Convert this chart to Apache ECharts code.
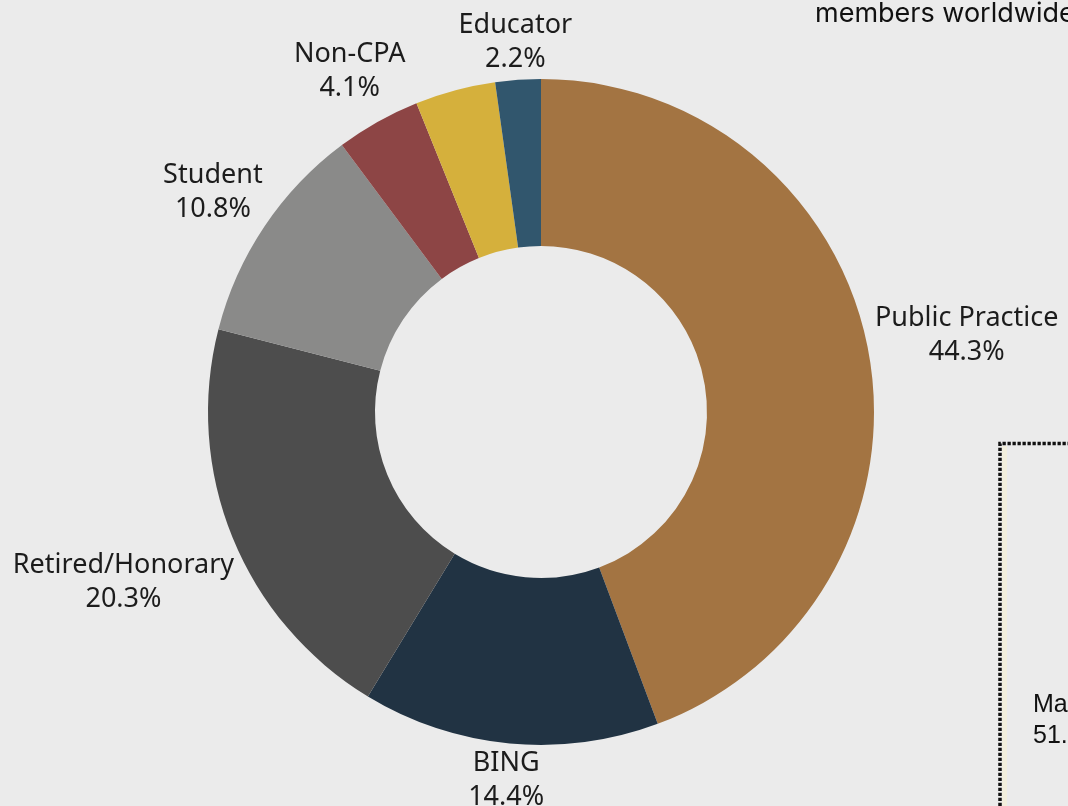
<!DOCTYPE html>
<html>
<head>
<meta charset="utf-8">
<script src="https://cdn.jsdelivr.net/npm/echarts@6/dist/echarts.min.js"></script>
<style>
html,body{margin:0;padding:0;background:#ebebeb;}
#chart{width:1068px;height:806px;}
</style>
</head>
<body>
<div id="chart"></div>
<script>
const categories = ['Public Practice', 'BING', 'Retired/Honorary', 'Student', 'Non-CPA', 'Other', 'Educator'];
const shares = [44.3, 14.4, 20.3, 10.8, 4.1, 3.9, 2.2];
const labelShown = [true, true, true, true, true, false, true];
const sliceColors = ['#A37442', '#213343', '#4D4D4D', '#8A8A89', '#8D4545', '#D5B03C', '#31566D'];

const CX = 541, CY = 412, R_IN = 166, R_OUT = 333, LABEL_GAP = 337;
const total = shares.reduce((a, b) => a + b, 0);

const chart = echarts.init(document.getElementById('chart'), null, {renderer: 'canvas'});
chart.setOption({
  backgroundColor: '#ebebeb',
  animation: false,
  series: [{
    type: 'pie',
    center: [CX, CY],
    radius: [R_IN, R_OUT],
    startAngle: 90,
    clockwise: true,
    avoidLabelOverlap: false,
    data: categories.map((name, i) => ({
      name: name,
      value: shares[i],
      itemStyle: {color: sliceColors[i]},
      label: {show: labelShown[i]}
    })),
    label: {
      position: 'outside',
      formatter: p => p.name + '\n' + p.value.toFixed(1) + '%',
      fontFamily: 'Noto Sans',
      fontSize: 27,
      lineHeight: 34,
      color: '#1c1c1c'
    },
    labelLine: {show: false},
    labelLayout: function (p) {
      const i = p.dataIndex;
      let before = 0;
      for (let k = 0; k < i; k++) before += shares[k];
      const mid = (before + shares[i] / 2) / total * 2 * Math.PI;
      const s = Math.sin(mid), c = Math.cos(mid);
      const w = p.labelRect.width, h = p.labelRect.height;
      const d = LABEL_GAP + w / 2 * Math.abs(s) + (h / 2 - 4) * Math.abs(c);
      return {x: CX + d * s, y: CY - d * c, align: 'center', verticalAlign: 'middle'};
    },
    emphasis: {disabled: true}
  }],
  graphic: [
    {type: 'text', left: 815, top: 0, style: {text: 'members worldwide', font: '27px Inter', fill: '#111'}},
    {type: 'rect', shape: {x: 1002, y: 446, width: 5, height: 360}, style: {fill: '#f2efdd'}},
    {type: 'polyline', shape: {points: [[1000, 806], [1000, 443.5], [1070, 443.5]]},
      style: {stroke: '#111', lineWidth: 3.5, lineDash: [3.3, 1.7], fill: null}},
    {type: 'text', left: 1033, top: 690, style: {text: 'Male\n51.1%', font: '25px Liberation Sans', lineHeight: 31, fill: '#111'}}
  ]
});
</script>
</body>
</html>
